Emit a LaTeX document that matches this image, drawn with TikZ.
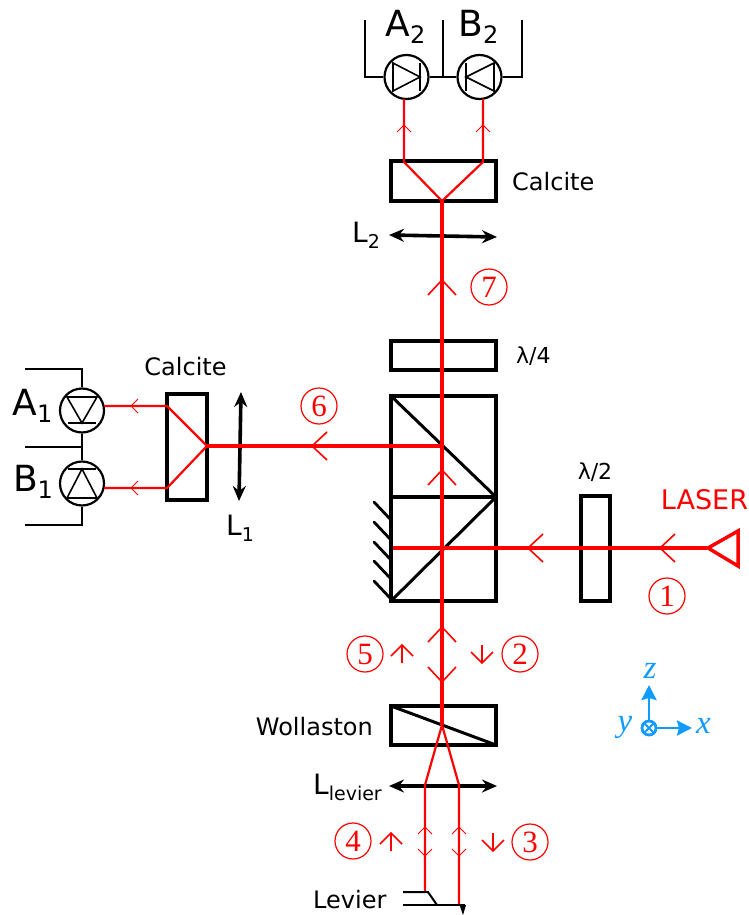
\documentclass[tikz,border=0pt]{standalone}
\usepackage{fontspec}
\setmainfont{DejaVu Sans}
\newfontfamily\numfont{Liberation Serif}
\usetikzlibrary{arrows.meta}
\definecolor{axisblue}{RGB}{15,155,255}
\tikzset{
  optic/.style={draw=black,line width=3.5pt,line join=miter},
  lens/.style={black,line width=3.6pt,{Stealth[length=15pt,width=13pt,inset=5pt]}-{Stealth[length=15pt,width=13pt,inset=5pt]}},
  beam/.style={red,line width=3.6pt},
  subbeam/.style={red,line width=2.2pt,line join=bevel},
  chevron/.style={red,line width=1.6pt},
  tinychevron/.style={red,line width=1pt},
  wire/.style={black,line width=2pt},
  detector/.style={circle,draw=black,fill=white,line width=2.2pt,minimum size=44pt,inner sep=0pt},
  diode/.style={black,line width=1.6pt},
  stepnum/.style={circle,draw=red,text=red,line width=1.2pt,minimum size=36pt,inner sep=0pt,font=\numfont\fontsize{31}{31}\selectfont},
  axislabel/.style={text=axisblue,font=\numfont\itshape\fontsize{33}{33}\selectfont},
  axisarrow/.style={axisblue,line width=2.8pt,-{Stealth[length=15pt,width=15pt,inset=2pt]}},
  smalltxt/.style={font=\fontsize{24}{24}\selectfont},
}
\newcommand{\bigsub}[2]{{\fontsize{36}{36}\selectfont #1\raisebox{-0.2em}{\fontsize{24}{24}\selectfont #2}}}
\newcommand{\midsub}[2]{{\fontsize{28}{28}\selectfont #1\raisebox{-0.22em}{\fontsize{19}{19}\selectfont #2}}}
\begin{document}
\begin{tikzpicture}[x=1pt,y=-1pt,>=Stealth]
  \useasboundingbox (0,0) rectangle (748,915);
  % boxes along the vertical arm
  \draw[optic] (391,161) rectangle (496,201);
  \draw[optic] (391,341) rectangle (496,370);
  \draw[optic] (391,396) rectangle (496,601);
  \draw[optic] (391,497) -- (496,497);
  \draw[optic,line width=3pt] (391,396) -- (496,497) -- (391,601);
  \draw[optic] (581,496) rectangle (610,601);
  \draw[optic] (391,706) rectangle (496,745);
  \draw[optic,line width=3pt] (391,706) -- (496,745);
  \draw[optic] (167,394) rectangle (207,500);
  % mirror hatching
  \foreach \y in {502,522,542,561,581}{
    \draw[black,line width=2.8pt,line cap=round] (374,\y) -- (391,\y+18);}
  % lenses
  \draw[lens] (389,235) -- (497,237);
  \draw[lens] (241,392) -- (239,501);
  \draw[lens] (389,786) -- (497,786);
  % detectors
  \node[detector] (A2) at (406.5,77) {};
  \node[detector] (B2) at (479.5,77) {};
  \node[detector] (A1) at (82,410.5) {};
  \node[detector] (B1) at (82,483.5) {};
  \coordinate (A2end) at (365,20); \coordinate (B2end) at (521.5,20); \coordinate (midtop) at (443,20);
  \coordinate (A1end) at (25,369); \coordinate (B1end) at (25,525); \coordinate (midleft) at (25,447);
  \draw[wire] (A2end) |- (A2); \draw[wire] (B2end) |- (B2);
  \draw[wire] (A2) -- (B2); \draw[wire] (midtop) -- (443,77);
  \draw[wire] (A1end) -| (A1); \draw[wire] (B1end) -| (B1);
  \draw[wire] (A1) -- (B1); \draw[wire] (midleft) -- (82,447);
  % diodes
  \draw[diode] (393,63) -- (393,91) -- (420,77) -- cycle; \draw[diode] (420,63) -- (420,91);
  \draw[diode] (494,63) -- (494,91) -- (466,77) -- cycle; \draw[diode] (466,63) -- (466,91);
  \draw[diode] (67,397) -- (97,397) -- (82,423) -- cycle; \draw[diode] (68,423) -- (96,423);
  \draw[diode] (67,498) -- (97,498) -- (82,469) -- cycle; \draw[diode] (68,469) -- (96,469);
  % beams
  \draw[beam] (442,201) -- (442,725);
  \draw[beam] (707,548) -- (393,548);
  \draw[beam] (442,446) -- (207,446);
  \draw[subbeam] (404,99) -- (404,162) -- (442,201) -- (483,162) -- (483,99);
  \draw[subbeam] (104,406) -- (167,406) -- (207,446) -- (167,488) -- (104,488);
  \draw[subbeam] (425,892) -- (425,785) -- (442,725) -- (459,785) -- (459,905);
  \draw[red,line width=3.5pt,miter limit=6] (708,548) -- (738,531) -- (738,566) -- cycle;
  % chevrons on the beams
  \foreach \x/\y/\a in {660/548/0,528/548/0,312/446/0,442/470/-90,442/627/-90,442/682/90,442/280/-90}{
    \draw[chevron,shift={(\x,\y)},rotate=\a] (15,-14) -- (0,0) -- (15,14);}
  \foreach \x/\y/\a in {404/125/-90,483/125/-90,131/406/0,131/488/0,425/827/-90,459/827/-90,425/856/90,459/856/90}{
    \draw[tinychevron,shift={(\x,\y)},rotate=\a] (7,-7) -- (0,0) -- (7,7);}
  % direction arrows beside the numbers
  \foreach \x/\y/\a in {402/645/-90,482/663/90,391/833/-90,493/851/90}{
    \draw[chevron,shift={(\x,\y)},rotate=\a] (11,-11) -- (0,0) -- (11,11) (0,0) -- (18,0);}
  % numbered steps
  \node[stepnum] (step1) at (667,596) {1};
  \node[stepnum] (step2) at (520,654) {2};
  \node[stepnum] (step3) at (530,842) {3};
  \node[stepnum] (step4) at (353,841) {4};
  \node[stepnum] (step5) at (365,654) {5};
  \node[stepnum] (step6) at (319,406) {6};
  \node[stepnum] (step7) at (489,287) {7};
  % lever
  \draw[wire] (403,892) -- (428,892) -- (437,905);
  \draw[wire] (403,905) -- (465,905);
  \fill[black] (459.5,905) -- (466,905) -- (463,915) -- cycle;
  % axes
  \coordinate (xtip) at (692,728); \coordinate (ztip) at (649,685);
  \node[circle,draw=axisblue,line width=2.8pt,minimum size=14pt,inner sep=0pt] (origin) at (649,728) {};
  \draw[axisarrow] (origin) -- (xtip);
  \draw[axisarrow] (origin) -- (ztip);
  \draw[axisblue,line width=1.8pt] (645,724) -- (653,732) (645,732) -- (653,724);
  \node[axislabel] (xlabel) at (703.5,726) {x};
  \node[axislabel] (ylabel) at (625,727) {y};
  \node[axislabel] (zlabel) at (650,671) {z};
  % labels
  \node[inner sep=0pt] (labA2) at (405.5,27) {\bigsub{A}{2}};
  \node[inner sep=0pt] (labB2) at (478.5,27) {\bigsub{B}{2}};
  \node[inner sep=0pt] (labA1) at (32.5,406) {\bigsub{A}{1}};
  \node[inner sep=0pt] (labB1) at (33,482) {\bigsub{B}{1}};
  \node[smalltxt,anchor=west,inner sep=0pt] (calcitetop) at (512,181.5) {Calcite};
  \node[smalltxt,inner sep=0pt] (calciteleft) at (185.5,366.5) {Calcite};
  \node[smalltxt,anchor=east,inner sep=0pt] (wollaston) at (373,727) {Wollaston};
  \node[smalltxt,anchor=west,inner sep=0pt] (levier) at (313,900) {Levier};
  \node[anchor=west,inner sep=0pt,font=\fontsize{22}{22}\selectfont] (qwave) at (516,356) {λ/4};
  \node[inner sep=0pt,font=\fontsize{22}{22}\selectfont] (hwave) at (595,472) {λ/2};
  \node[inner sep=0pt,text=red,font=\fontsize{27}{27}\selectfont] (laser) at (704.5,500) {LASER};
  \node[inner sep=0pt] (labL1) at (240,528) {\midsub{L}{1}};
  \node[inner sep=0pt] (labL2) at (366,235) {\midsub{L}{2}};
  \node[anchor=west,inner sep=0pt] (labLlev) at (313,787) {\midsub{L}{levier}};
\end{tikzpicture}
\end{document}
